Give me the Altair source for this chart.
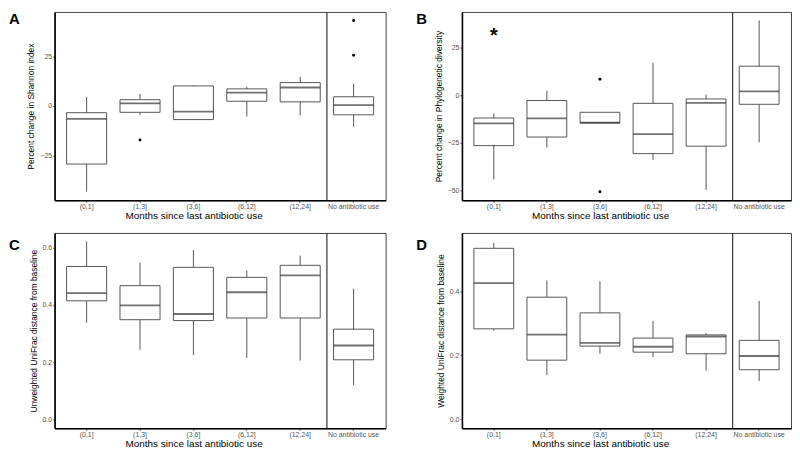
import altair as alt
import pandas as pd

categories = ["(0,1]", "(1,3]", "(3,6]", "(6,12]", "(12,24]", "No antibiotic use"]

# Panel A: percent change in Shannon index
a_lo = [-43.5, -4.5, -7.0, -5.3, -4.8, -10.5]
a_q1 = [-29.5, -3.2, -6.9, 2.4, 2.1, -4.5]
a_med = [-6.5, 1.3, -2.9, 6.8, 9.4, 0.5]
a_q3 = [-3.4, 3.2, 10.2, 8.7, 11.9, 4.7]
a_hi = [4.5, 6.1, 10.5, 9.7, 14.8, 11.3]
a_out_cat = ["(1,3]", "No antibiotic use", "No antibiotic use"]
a_out_val = [-17.3, 25.8, 43.4]

# Panel B: percent change in phylogenetic diversity
b_lo = [-44.3, -27.5, -14.5, -34.0, -49.7, -24.7]
b_q1 = [-26.5, -22.0, -14.5, -30.7, -26.8, -4.8]
b_med = [-14.8, -12.2, -14.5, -20.5, -4.0, 2.0]
b_q3 = [-12.0, -2.8, -9.0, -4.3, -2.0, 15.2]
b_hi = [-9.7, 2.3, -9.0, 17.0, 0.3, 39.2]
b_out_cat = ["(3,6]", "(3,6]"]
b_out_val = [8.3, -50.7]
b_star_cat = ["(0,1]"]
b_star_val = [33.3]

# Panel C: unweighted UniFrac distance from baseline
c_lo = [0.338, 0.243, 0.225, 0.215, 0.205, 0.119]
c_q1 = [0.414, 0.348, 0.345, 0.354, 0.354, 0.208]
c_med = [0.441, 0.398, 0.368, 0.444, 0.503, 0.258]
c_q3 = [0.534, 0.467, 0.531, 0.496, 0.538, 0.315]
c_hi = [0.621, 0.548, 0.591, 0.520, 0.572, 0.456]

# Panel D: weighted UniFrac distance from baseline
d_lo = [0.277, 0.139, 0.205, 0.195, 0.152, 0.120]
d_q1 = [0.283, 0.185, 0.229, 0.210, 0.205, 0.155]
d_med = [0.426, 0.265, 0.239, 0.227, 0.259, 0.198]
d_q3 = [0.535, 0.382, 0.333, 0.254, 0.264, 0.247]
d_hi = [0.552, 0.434, 0.432, 0.308, 0.270, 0.370]

x_title = "Months since last antibiotic use"
FONT = "Liberation Sans"


def panel(letter, lo, q1, med, q3, hi, out_cat, out_val, ytitle, ydomain, yticks,
          yfmt, width, height, star_cat=None, star_val=None, letter_y=3):
    df = pd.DataFrame({"cat": categories, "lo": lo, "q1": q1, "med": med,
                       "q3": q3, "hi": hi})
    xscale = alt.Scale(domain=categories, paddingInner=0, paddingOuter=0.1)
    xaxis = alt.Axis(title=x_title, labelAngle=0, titleX=width * 0.42)
    yscale = alt.Scale(domain=ydomain, nice=False, zero=False)
    yaxis = alt.Axis(title=ytitle, values=yticks, format=yfmt)
    X = alt.X("cat:N", scale=xscale, axis=xaxis, sort=categories)

    def Y(field):
        return alt.Y(f"{field}:Q", scale=yscale, axis=yaxis)

    step = width / 6.2
    base = alt.Chart(df)
    whisk = base.mark_rule(color="#555555", strokeWidth=1).encode(
        x=X, y=Y("lo"), y2="hi")
    box = base.mark_bar(width=alt.RelativeBandSize(0.75), fill="white",
                        stroke="#555555", strokeWidth=1).encode(
        x=X, y=Y("q1"), y2="q3")
    medtick = base.mark_tick(orient="horizontal", size=step * 0.75,
                             thickness=1.8, color="#333333").encode(
        x=X, y=Y("med"))
    layers = [whisk, box, medtick]
    if out_cat:
        odf = pd.DataFrame({"cat": out_cat, "val": out_val})
        layers.append(alt.Chart(odf).mark_circle(size=9, color="black",
                                                 opacity=1).encode(x=X, y=Y("val")))
    if star_cat:
        sdf = pd.DataFrame({"cat": star_cat, "val": star_val, "t": ["*"]})
        layers.append(alt.Chart(sdf).mark_text(fontSize=20, fontWeight="bold",
                                               baseline="middle", dy=4,
                                               font=FONT).encode(
            x=X, y=Y("val"), text="t:N"))
    sep = pd.DataFrame({"cat": ["No antibiotic use"]})
    layers.append(alt.Chart(sep).mark_rule(color="#333333", strokeWidth=1.2).encode(
        x=alt.X("cat:N", scale=xscale, axis=xaxis, sort=categories, bandPosition=0)))
    ldf = pd.DataFrame({"t": [letter]})
    layers.append(alt.Chart(ldf).mark_text(fontSize=15, fontWeight="bold",
                                           align="left", baseline="top",
                                           font=FONT).encode(
        x=alt.value(-46), y=alt.value(letter_y), text="t:N"))
    return alt.layer(*layers).properties(width=width, height=height)


pA = panel("A", a_lo, a_q1, a_med, a_q3, a_hi, a_out_cat, a_out_val,
           "Percent change in Shannon index", [-47.9, 47.8], [-25, 0, 25], "d",
           334, 190, letter_y=0)
pB = panel("B", b_lo, b_q1, b_med, b_q3, b_hi, b_out_cat, b_out_val,
           "Percent change in Phylogenetic diversity", [-55.2, 43.7],
           [-50, -25, 0, 25], "d", 332, 190, b_star_cat, b_star_val, letter_y=0)
pC = panel("C", c_lo, c_q1, c_med, c_q3, c_hi, [], [],
           "Unweighted UniFrac distance from baseline", [-0.031, 0.651],
           [0.0, 0.2, 0.4, 0.6], ".1f", 334, 197, letter_y=5)
pD = panel("D", d_lo, d_q1, d_med, d_q3, d_hi, [], [],
           "Weighted UniFrac distance from baseline", [-0.028, 0.583],
           [0.0, 0.2, 0.4], ".1f", 332, 197, letter_y=5)

chart = alt.vconcat(
    alt.hconcat(pA, pB, spacing=29),
    alt.hconcat(pC, pD, spacing=29),
    spacing=10,
).properties(padding=0).configure_view(
    stroke="#444444", strokeWidth=1
).configure_axis(
    grid=False, domainColor="black", domainWidth=1.6, tickColor="#555555",
    tickSize=2, labelColor="#555555", labelFontSize=7, labelFont=FONT,
    titleFont=FONT, titleFontSize=8.5, titleFontWeight="normal", titleColor="black",
    labelPadding=1,
).configure_axisX(titleFontSize=10, titlePadding=1, labelPadding=0).configure_axisY(
    titlePadding=4
).configure_text(font=FONT)

chart.save("out.html", embed_options={"renderer": "svg", "actions": False})
